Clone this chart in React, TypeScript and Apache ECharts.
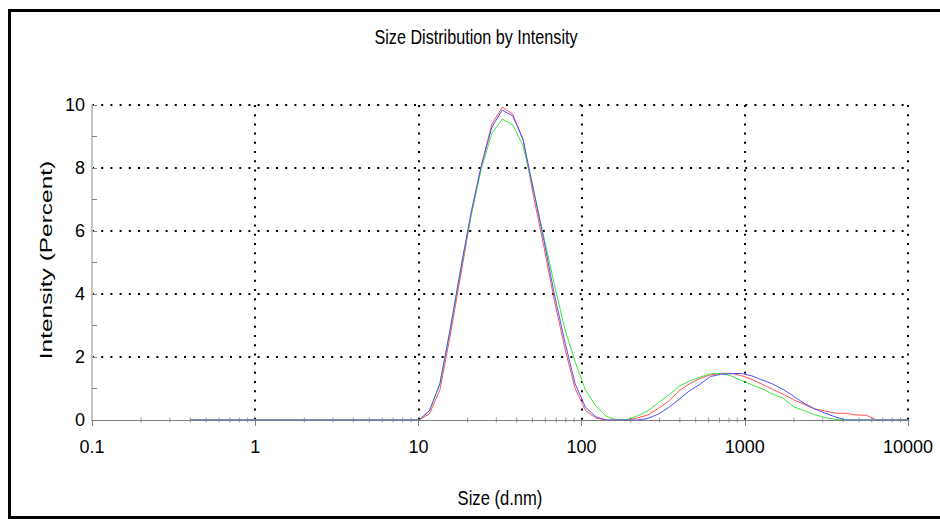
import React, { useEffect, useRef } from "react";
import * as echarts from "echarts";

// Particle size bins (d.nm)
const SIZES = [
  0.4, 0.4632, 0.5365, 0.6213, 0.7195, 0.8332, 0.9649, 1.117, 1.294, 1.499,
  1.736, 2.01, 2.328, 2.696, 3.122, 3.615, 4.187, 4.849, 5.615, 6.503,
  7.531, 8.721, 10.1, 11.7, 13.54, 15.69, 18.17, 21.04, 24.36, 28.21,
  32.67, 37.84, 43.82, 50.75, 58.77, 68.06, 78.82, 91.28, 105.7, 122.4,
  141.8, 164.2, 190.1, 220.2, 255.0, 295.3, 342.0, 396.1, 458.7, 531.2,
  615.1, 712.4, 825.0, 955.4, 1106, 1281, 1484, 1718, 1990, 2305,
  2669, 3091, 3580, 4145, 4801, 5560, 6439, 7456, 8635, 10000,
];

const RED = [
  0, 0, 0, 0, 0, 0, 0, 0, 0, 0,
  0, 0, 0, 0, 0, 0, 0, 0, 0, 0,
  0, 0, 0, 0.2, 0.95, 2.7, 4.6, 6.5, 8.1, 9.4,
  9.93, 9.71, 8.9, 7.1, 5.5, 3.8, 2.3, 1.0, 0.3, 0.06,
  0, 0, 0, 0.07, 0.16, 0.37, 0.6, 0.93, 1.15, 1.32,
  1.43, 1.48, 1.48, 1.41, 1.29, 1.13, 0.97, 0.82, 0.64, 0.5,
  0.35, 0.29, 0.22, 0.21, 0.16, 0.15, 0, 0, 0, 0,
];

const GREEN = [
  0, 0, 0, 0, 0, 0, 0, 0, 0, 0,
  0, 0, 0, 0, 0, 0, 0, 0, 0, 0,
  0, 0, 0, 0.3, 1.15, 2.9, 4.8, 6.5, 8.0, 9.1,
  9.55, 9.37, 8.7, 7.3, 5.8, 4.3, 2.9, 1.85, 0.95, 0.44,
  0.12, 0, 0.02, 0.13, 0.29, 0.55, 0.79, 1.07, 1.24, 1.36,
  1.47, 1.48, 1.4, 1.25, 1.12, 0.99, 0.82, 0.69, 0.42, 0.3,
  0.17, 0.08, 0.02, 0, 0, 0, 0, 0, 0, 0,
];

const BLUE = [
  0, 0, 0, 0, 0, 0, 0, 0, 0, 0,
  0, 0, 0, 0, 0, 0, 0, 0, 0, 0,
  0, 0, 0, 0.3, 1.15, 2.9, 4.8, 6.6, 8.1, 9.3,
  9.84, 9.65, 8.9, 7.3, 5.7, 4.0, 2.5, 1.15, 0.4, 0.1,
  0, 0, 0, 0, 0.05, 0.19, 0.4, 0.66, 0.93, 1.13,
  1.38, 1.45, 1.47, 1.48, 1.4, 1.27, 1.14, 0.97, 0.76, 0.53,
  0.36, 0.22, 0.1, 0, 0, 0, 0, 0, 0, 0,
];

const X_DECADES = [0.1, 1, 10, 100, 1000];
const X_MINOR_MULT = [2, 3, 4, 5, 6, 7, 8, 9];

const TITLE = "Size Distribution by Intensity";
const X_NAME = "Size (d.nm)";
const Y_NAME = "Intensity (Percent)";

const FONT = "'Liberation Sans', Arial, sans-serif";

export default function App() {
  const ref = useRef<HTMLDivElement>(null);

  useEffect(() => {
    if (!ref.current) return;
    const chart = echarts.init(ref.current, undefined, { renderer: "svg" });

    const pair = (vals: number[]) => SIZES.map((s, i) => [s, vals[i]]);
    const minorTicks: number[][] = [];
    X_DECADES.forEach((d) =>
      X_MINOR_MULT.forEach((m) => minorTicks.push([m * d, 0]))
    );

    const dotted = { color: "#000", width: 2, type: [2, 7.2] as number[] };
    const lineSeries = (name: string, vals: number[], color: string) => ({
      name,
      type: "line",
      data: pair(vals),
      showSymbol: false,
      symbol: "none",
      lineStyle: { color, width: 1 },
      itemStyle: { color },
      z: 2,
      silent: true,
    });

    const textStyle = (text: string, size: number) => ({
      text,
      fontSize: size,
      fontFamily: FONT,
      fill: "#000",
      align: "center",
      verticalAlign: "middle",
      textAlign: "center",
      textVerticalAlign: "middle",
    });

    chart.setOption({
      animation: false,
      backgroundColor: "#fff",
      grid: { left: 92, right: 32, top: 105, bottom: 99, containLabel: false },
      xAxis: {
        type: "log",
        logBase: 10,
        min: 0.1,
        max: 10000,
        axisLine: { show: true, onZero: false, lineStyle: { color: "#808080", width: 1 } },
        axisTick: { show: true, inside: false, length: 6, lineStyle: { color: "#808080" } },
        axisLabel: {
          color: "#000",
          fontFamily: FONT,
          fontSize: 18,
          margin: 18,
          formatter: (v: number) => (v < 1 ? String(v) : String(Math.round(v))),
        },
        splitLine: { show: true, showMinLine: false, lineStyle: dotted },
      },
      yAxis: {
        type: "value",
        min: 0,
        max: 10,
        interval: 2,
        axisLine: { show: true, lineStyle: { color: "#c4c4c4", width: 2 } },
        axisTick: { show: true, inside: true, length: 5, lineStyle: { color: "#808080" } },
        minorTick: { show: true, splitNumber: 2, length: 5, lineStyle: { color: "#808080" } },
        axisLabel: { color: "#000", fontFamily: FONT, fontSize: 18, margin: 7 },
        splitLine: { show: true, showMinLine: false, lineStyle: dotted },
      },
      graphic: [
        {
          type: "rect",
          silent: true,
          z: -10,
          shape: { x: 9.5, y: 10.5, width: 1000, height: 507 },
          style: { fill: "none", stroke: "#000", lineWidth: 3 },
        },
        {
          type: "text",
          x: 476,
          y: 37,
          scaleX: 0.83,
          style: textStyle(TITLE, 19.5),
        },
        {
          type: "text",
          x: 500,
          y: 498,
          scaleX: 0.83,
          style: textStyle(X_NAME, 20),
        },
        {
          type: "text",
          x: 46,
          y: 260,
          rotation: Math.PI / 2,
          scaleX: 1.44,
          style: textStyle(Y_NAME, 17),
        },
      ],
      series: [
        lineSeries("Record 1", RED, "rgb(255,80,80)"),
        lineSeries("Record 2", GREEN, "rgb(60,230,60)"),
        lineSeries("Record 3", BLUE, "rgb(80,80,255)"),
        {
          type: "scatter",
          data: minorTicks,
          symbol: "rect",
          symbolSize: [1, 5],
          itemStyle: { color: "#808080" },
          silent: true,
          clip: false,
          z: 4,
        },
      ],
    });

    return () => chart.dispose();
  }, []);

  return (
    <div
      ref={ref}
      style={{ position: "fixed", left: 0, top: 0, width: 940, height: 519, background: "#fff" }}
    />
  );
}
